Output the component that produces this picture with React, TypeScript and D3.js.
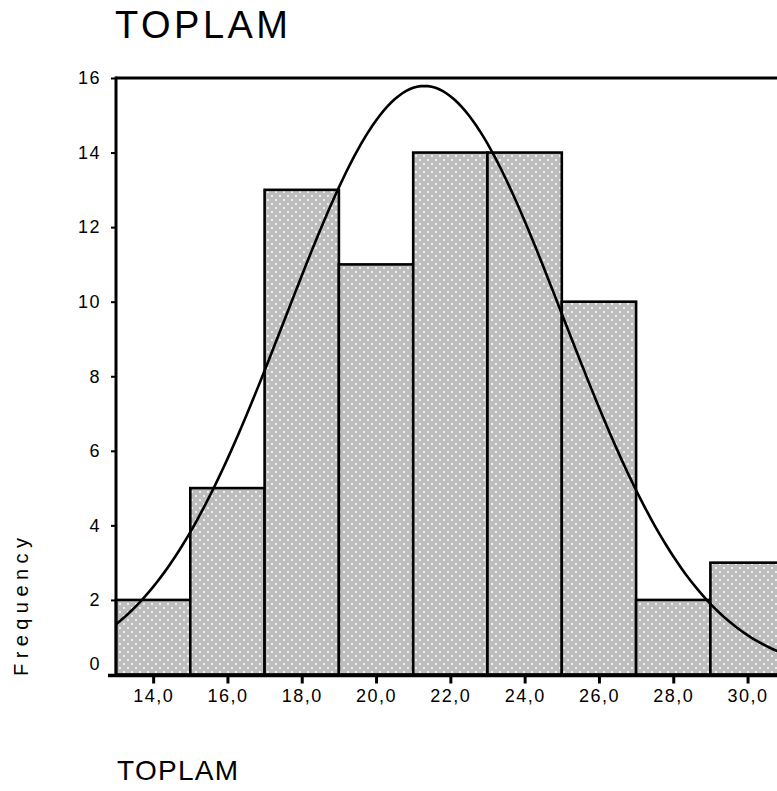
import React from 'react';
import * as d3 from 'd3';

// histogram bins (lower edge), bin width and counts
const binStarts = [13, 15, 17, 19, 21, 23, 25, 27, 29];
const binWidth = 2;
const counts = [2, 5, 13, 11, 14, 14, 10, 2, 3];
const xTicks = [14, 16, 18, 20, 22, 24, 26, 28, 30];
const yTicks = [0, 2, 4, 6, 8, 10, 12, 14, 16];
// fitted normal curve parameters
const curveMean = 21.3;
const curveSd = 3.74;
const curveN = 74;

const W = 777, H = 791;
const FONT = '"Liberation Sans", Arial, sans-serif';

export default function App() {
    const ref = React.useRef<SVGSVGElement>(null);

    React.useEffect(() => {
        document.body.style.margin = '0';
        const svg = d3.select(ref.current);
        svg.selectAll('*').remove();

        const x = d3.scaleLinear().domain([13, 33]).range([116, 116 + 20 * 37.15]);
        const y = d3.scaleLinear().domain([0, 16]).range([674.5, 78]);

        const defs = svg.append('defs');
        const pat = defs.append('pattern')
            .attr('id', 'hatch')
            .attr('patternUnits', 'userSpaceOnUse')
            .attr('width', 8).attr('height', 8);
        pat.append('rect').attr('width', 8).attr('height', 8).attr('fill', '#fff');
        [[0, 0], [8, 0], [0, 8], [8, 8], [4, 4]].forEach(([cx, cy]) => {
            pat.append('circle').attr('cx', cx).attr('cy', cy).attr('r', 3.15).attr('fill', '#bdbdbd');
        });

        // frame (top line)
        svg.append('line')
            .attr('x1', x(13)).attr('x2', W)
            .attr('y1', y(16)).attr('y2', y(16))
            .attr('stroke', '#000').attr('stroke-width', 3);

        // bars
        svg.append('g')
            .selectAll('rect')
            .data(binStarts)
            .join('rect')
            .attr('x', d => x(d))
            .attr('width', x(binWidth) - x(0))
            .attr('y', (d, i) => y(counts[i]))
            .attr('height', (d, i) => y(0) - y(counts[i]))
            .attr('fill', 'url(#hatch)')
            .attr('stroke', '#000')
            .attr('stroke-width', 2.6);

        // normal curve
        const peak = curveN * binWidth / (curveSd * Math.sqrt(2 * Math.PI));
        const xs = d3.range(13, 33.01, 0.1);
        const line = d3.line<number>()
            .x(d => x(d))
            .y(d => y(peak * Math.exp(-0.5 * ((d - curveMean) / curveSd) ** 2)));
        svg.append('path')
            .datum(xs)
            .attr('d', line)
            .attr('fill', 'none')
            .attr('stroke', '#000')
            .attr('stroke-width', 2.6);

        // y axis
        const yAxis = d3.axisLeft(y).tickValues(yTicks).tickSize(5).tickPadding(10);
        svg.append('g')
            .attr('transform', `translate(${x(13)},0)`)
            .call(yAxis)
            .call(g => g.select('.domain').remove())
            .call(g => g.selectAll('.tick line').attr('stroke-width', 2))
            .call(g => g.selectAll('.tick text')
                .attr('font-family', FONT)
                .attr('font-size', 18)
                .attr('letter-spacing', 1.5)
                .attr('fill', '#000')
                .attr('dy', (d: any) => d === 0 ? '-0.3em' : '0.32em'));
        svg.append('line')
            .attr('x1', x(13)).attr('x2', x(13))
            .attr('y1', y(16) - 1.5).attr('y2', y(0) + 2)
            .attr('stroke', '#000').attr('stroke-width', 3);

        // x axis
        const xAxis = d3.axisBottom(x).tickValues(xTicks).tickSize(8).tickPadding(6)
            .tickFormat(d => (d as number).toFixed(1).replace('.', ','));
        svg.append('g')
            .attr('transform', `translate(0,${y(0) + 1})`)
            .call(xAxis)
            .call(g => g.select('.domain').remove())
            .call(g => g.selectAll('.tick line').attr('stroke-width', 3))
            .call(g => g.selectAll('.tick text')
                .attr('font-family', FONT)
                .attr('font-size', 18)
                .attr('letter-spacing', 1.5)
                .attr('fill', '#000'));
        svg.append('line')
            .attr('x1', 108).attr('x2', W)
            .attr('y1', y(0) + 1).attr('y2', y(0) + 1)
            .attr('stroke', '#000').attr('stroke-width', 3.5);

        // titles
        svg.append('text')
            .attr('x', 115).attr('y', 38)
            .attr('font-family', FONT).attr('font-size', 38)
            .attr('textLength', 173).attr('lengthAdjust', 'spacing')
            .text('TOPLAM');
        svg.append('text')
            .attr('x', 117).attr('y', 780)
            .attr('font-family', FONT).attr('font-size', 28)
            .attr('textLength', 121).attr('lengthAdjust', 'spacing')
            .text('TOPLAM');
        svg.append('text')
            .attr('transform', 'translate(28,676) rotate(-90)')
            .attr('font-family', FONT).attr('font-size', 20)
            .attr('textLength', 138).attr('lengthAdjust', 'spacing')
            .text('Frequency');
    }, []);

    return <svg ref={ref} width={W} height={H} style={{ display: 'block', background: '#fff' }} />;
}
